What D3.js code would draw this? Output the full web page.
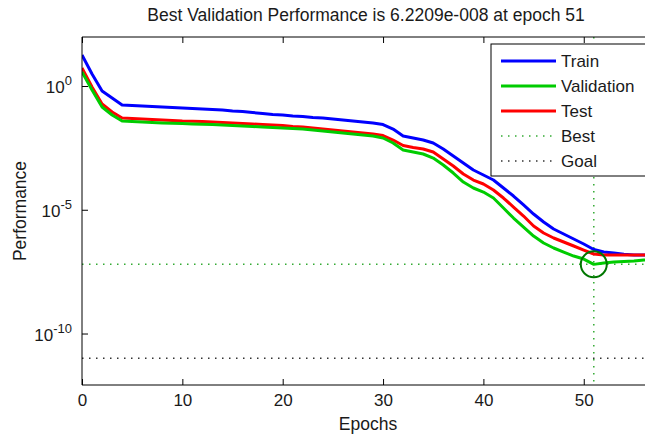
<!DOCTYPE html>
<html><head><meta charset="utf-8">
<script src="https://cdn.jsdelivr.net/npm/d3@7"></script>
<style>body{margin:0;background:#fff;} svg{display:block;} text{font-family:"Liberation Sans",Arial,sans-serif;fill:#1a1a1a;}</style>
</head><body>
<svg id="c" width="645" height="436"></svg>
<script>
const epochs = d3.range(0, 58);
const trainPerf = [17.9,3.05,0.628,0.327,0.171,0.163,0.1555,0.1485,0.1417,0.1353,0.1292,0.1233,0.1177,0.1123,0.1072,0.0977,0.0933,0.085,0.0774,0.0705,0.0673,0.0614,0.0586,0.0534,0.0509,0.0464,0.0423,0.0385,0.0351,0.032,0.0278,0.0183,0.00954,0.00792,0.00658,0.00498,0.00285,0.00148,7.74e-4,4.04e-4,2.54e-4,1.59e-4,7.57e-5,3.59e-5,1.56e-5,6.73e-6,3.2e-6,1.67e-6,1.05e-6,6.58e-7,4.13e-7,2.48e-7,1.96e-7,1.79e-7,1.6e-7,1.5e-7,1.5e-7,1.5e-7];
const validationPerf = [3.68,0.689,0.1417,0.0673,0.0385,0.0368,0.0351,0.0335,0.032,0.0311,0.0303,0.0291,0.0283,0.0276,0.0266,0.0254,0.0242,0.0231,0.022,0.021,0.0201,0.0192,0.0183,0.0167,0.0152,0.0138,0.0126,0.0115,0.01047,0.00954,0.00792,0.00498,0.00259,0.00215,0.00179,0.00123,6.43e-4,3.05e-4,1.32e-4,7.57e-5,5.21e-5,2.98e-5,1.18e-5,4.64e-6,2.01e-6,8.69e-7,4.54e-7,2.85e-7,1.96e-7,1.35e-7,1.02e-7,6.2209e-8,7.05e-8,7.74e-8,8.11e-8,8.5e-8,9.33e-8,9.77e-8];
const testPerf = [5.34,0.911,0.1874,0.089,0.0509,0.0486,0.0464,0.0443,0.0423,0.0404,0.0385,0.0375,0.0365,0.0351,0.0335,0.032,0.0305,0.0291,0.0278,0.0266,0.0254,0.0231,0.022,0.0201,0.0183,0.0167,0.0152,0.0138,0.0126,0.0115,0.01,0.00658,0.00394,0.00327,0.00285,0.00215,0.00112,5.86e-4,2.78e-4,1.59e-4,1.1e-4,6.28e-5,2.98e-5,1.29e-5,5.59e-6,2.2e-6,1.15e-6,7.22e-7,4.98e-7,3.43e-7,2.36e-7,1.63e-7,1.49e-7,1.49e-7,1.49e-7,1.49e-7,1.49e-7,1.49e-7];
const bestEpoch = 51;
const bestPerf = 6.2209e-8;
const goalPerf = 1e-11;
const xTicks = [0,10,20,30,40,50];
const yTicks = [1e0,1e-5,1e-10];
const seriesNames = ["Train","Validation","Test"];
const seriesColors = ["#0000ff","#00cc00","#ff0000"];

const svg = d3.select("#c");
const L = 82, R = 654, T = 37, B = 385;
const x = d3.scaleLinear().domain([0, 57]).range([L, R]);
const y = d3.scaleLog().domain([Math.pow(10,-12.08), Math.pow(10,1.98)]).range([B, T]);

svg.append("clipPath").attr("id","pc").append("rect").attr("x",L).attr("y",T).attr("width",R-L).attr("height",B-T);

svg.append("text").attr("x", (L+R)/2 - 2).attr("y", 21).attr("text-anchor","middle").style("font-size","17.5px")
  .text("Best Validation Performance is " + "6.2209e-008" + " at epoch " + bestEpoch);

const g = svg.append("g").attr("clip-path","url(#pc)");

g.append("line").attr("x1",L).attr("x2",R).attr("y1",y(bestPerf)).attr("y2",y(bestPerf))
  .attr("stroke","#33aa33").attr("stroke-width",1.5).attr("stroke-dasharray","1.5,5.5");
g.append("line").attr("x1",x(bestEpoch)).attr("x2",x(bestEpoch)).attr("y1",T).attr("y2",B)
  .attr("stroke","#33aa33").attr("stroke-width",1.5).attr("stroke-dasharray","1.5,5.5");
g.append("line").attr("x1",L).attr("x2",R).attr("y1",y(goalPerf)).attr("y2",y(goalPerf))
  .attr("stroke","#333").attr("stroke-width",1.5).attr("stroke-dasharray","1.5,5.5");

const line = d3.line().x((d,i)=>x(epochs[i])).y(d=>y(d));
[[trainPerf, seriesColors[0]], [testPerf, seriesColors[2]], [validationPerf, seriesColors[1]]].forEach(([s, col]) => {
  g.append("path").datum(s).attr("d", line).attr("fill","none").attr("stroke",col).attr("stroke-width",3).attr("stroke-linejoin","round");
});
g.append("circle").attr("cx",x(bestEpoch)).attr("cy",y(bestPerf)).attr("r",13)
  .attr("fill","none").attr("stroke","#007700").attr("stroke-width",2);

svg.append("line").attr("x1",L).attr("x2",R).attr("y1",B).attr("y2",B).attr("stroke","#000");
svg.append("line").attr("x1",L).attr("x2",R).attr("y1",T).attr("y2",T).attr("stroke","#000");
svg.append("line").attr("x1",L).attr("x2",L).attr("y1",T).attr("y2",B).attr("stroke","#000");

const xb = svg.append("g").attr("transform",`translate(0,${B})`)
  .call(d3.axisBottom(x).tickValues(xTicks).tickSizeInner(-6).tickSizeOuter(0).tickPadding(9).tickFormat(d3.format("d")));
xb.select(".domain").remove();
xb.selectAll("text").style("font-size","17px").style("font-family","Liberation Sans, Arial, sans-serif").attr("fill","#1a1a1a");
const xt = svg.append("g").attr("transform",`translate(0,${T})`)
  .call(d3.axisTop(x).tickValues(xTicks).tickSizeInner(-6).tickSizeOuter(0).tickFormat(""));
xt.select(".domain").remove();

const yl = svg.append("g").attr("transform",`translate(${L},0)`)
  .call(d3.axisLeft(y).tickValues(yTicks).tickSizeInner(-6).tickSizeOuter(0).tickFormat(""));
yl.select(".domain").remove();
yTicks.forEach(v => {
  const e = Math.round(Math.log10(v));
  const t = svg.append("text").attr("x", L-10).attr("y", y(v)+7).attr("text-anchor","end").style("font-size","17px");
  t.append("tspan").text("10");
  t.append("tspan").attr("dy",-8).style("font-size","13px").text(e);
});

svg.append("text").attr("x",(L+R)/2).attr("y",430).attr("text-anchor","middle").style("font-size","17.5px").text("Epochs");
svg.append("text").attr("transform",`translate(26,${(T+B)/2}) rotate(-90)`).attr("text-anchor","middle").style("font-size","17.5px").text("Performance");

const lg = svg.append("g");
lg.append("rect").attr("x",491).attr("y",44).attr("width",170).attr("height",132).attr("fill","#fff").attr("stroke","#000");
const legItems = [
  {name: seriesNames[0], color: seriesColors[0], dash: null},
  {name: seriesNames[1], color: seriesColors[1], dash: null},
  {name: seriesNames[2], color: seriesColors[2], dash: null},
  {name: "Best", color: "#33aa33", dash: "1.5,5.5"},
  {name: "Goal", color: "#333", dash: "1.5,5.5"}
];
legItems.forEach((d,i) => {
  const yy = 61 + i*25;
  lg.append("line").attr("x1",501).attr("x2",556).attr("y1",yy).attr("y2",yy)
    .attr("stroke",d.color).attr("stroke-width", d.dash ? 1.5 : 3).attr("stroke-dasharray", d.dash);
  lg.append("text").attr("x",561).attr("y",yy+6).style("font-size","17px").text(d.name);
});
</script>
</body></html>
